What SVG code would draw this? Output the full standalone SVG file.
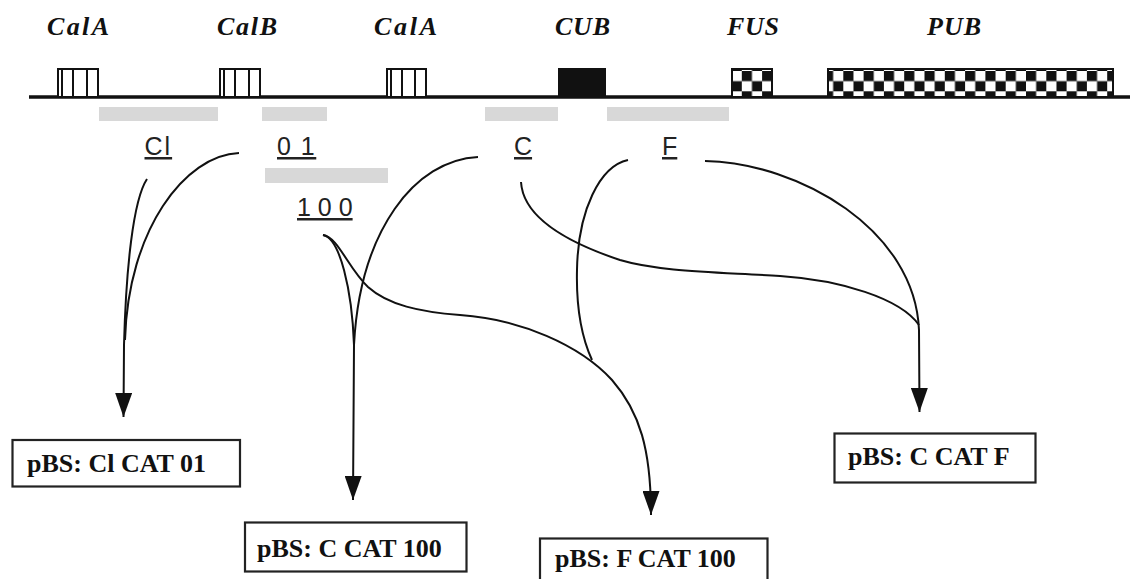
<svg xmlns="http://www.w3.org/2000/svg" width="1130" height="579" viewBox="0 0 1130 579">
<style>
.gl{font-family:"Liberation Serif","Times New Roman",serif;font-weight:bold;font-style:italic;font-size:26px;fill:#111}
.ex{fill:#fff;stroke:#111;stroke-width:2}
.bar{fill:#d8d8d8}
.lb{font-family:"Liberation Sans",Arial,sans-serif;font-size:25px;fill:#222;text-decoration:underline}
.cn{fill:none;stroke:#111;stroke-width:2}
.bx{fill:#fff;stroke:#222;stroke-width:2.2}
.bt{font-family:"Liberation Serif","Times New Roman",serif;font-weight:bold;font-size:26px;fill:#111}
</style>
<defs>
<marker id="ah" markerUnits="userSpaceOnUse" viewBox="0 0 24 17" markerWidth="24" markerHeight="17" refX="24" refY="8.5" orient="auto">
<path d="M0,0 L24,8.5 L0,17 z" fill="#111"/>
</marker>
<pattern id="chk" patternUnits="userSpaceOnUse" x="823" y="71" width="20.3" height="20.3">
<rect width="20.3" height="20.3" fill="#111"/>
<rect x="10.15" y="0" width="10.15" height="10.15" fill="#fff"/>
<rect x="0" y="10.15" width="10.15" height="10.15" fill="#fff"/>
</pattern>
</defs>
<rect width="1130" height="579" fill="#fff"/>

<g id="genes">
<line x1="29" y1="97" x2="1130" y2="97" stroke="#111" stroke-width="3.5"/>
<g id="gene-calA1">
<text class="gl" x="47" y="35" textLength="62" lengthAdjust="spacing">CalA</text>
<rect class="ex" x="58" y="69" width="40" height="28"/>
<path d="M62,69V97M73,69V97M87,69V97" stroke="#111" stroke-width="2"/>
</g>
<g id="gene-calB">
<text class="gl" x="217" y="35" textLength="60" lengthAdjust="spacing">CalB</text>
<rect class="ex" x="220" y="69" width="40" height="28"/>
<path d="M224,69V97M235,69V97M249,69V97" stroke="#111" stroke-width="2"/>
</g>
<g id="gene-calA2">
<text class="gl" x="374" y="35" textLength="63" lengthAdjust="spacing">CalA</text>
<rect class="ex" x="387" y="69" width="39" height="28"/>
<path d="M391,69V97M402,69V97M415,69V97" stroke="#111" stroke-width="2"/>
</g>
<g id="gene-CUB">
<text class="gl" x="555" y="35" textLength="55" lengthAdjust="spacing">CUB</text>
<rect x="559" y="69" width="46" height="28" fill="#111" stroke="#111" stroke-width="2"/>
</g>
<g id="gene-FUS">
<text class="gl" x="727" y="35" textLength="52" lengthAdjust="spacing">FUS</text>
<rect x="732" y="69" width="40" height="28" fill="url(#chk)" stroke="#111" stroke-width="2"/>
</g>
<g id="gene-PUB">
<text class="gl" x="927" y="35" textLength="54" lengthAdjust="spacing">PUB</text>
<rect x="828" y="69" width="285" height="28" fill="url(#chk)" stroke="#111" stroke-width="2"/>
</g>
</g>

<g id="fragments">
<rect class="bar" x="99" y="107" width="119" height="14"/>
<rect class="bar" x="262" y="107" width="65" height="14"/>
<rect class="bar" x="485" y="107" width="73" height="14"/>
<rect class="bar" x="607" y="107" width="122" height="14"/>
<rect class="bar" x="265" y="168" width="123" height="15"/>
</g>

<g id="labels">
<text id="lbl-Cl" class="lb" x="144.5" y="155" letter-spacing="2">Cl</text>
<text id="lbl-01" class="lb" x="277" y="155" xml:space="preserve" letter-spacing="1.5">0 1</text>
<text id="lbl-C" class="lb" x="514" y="155">C</text>
<text id="lbl-F" class="lb" x="662" y="155">F</text>
<text id="lbl-100" class="lb" x="297" y="216" xml:space="preserve">1 0 0</text>
</g>

<g id="connectors">
<path class="cn" d="M147,179 C133,200 126,270 124,345 L123.5,417" marker-end="url(#ah)"/>
<path class="cn" d="M239,153 C185,155 128,230 125,340"/>
<path class="cn" d="M478,157 C415,160 360,230 354,345 L353,500" marker-end="url(#ah)"/>
<path class="cn" d="M323,235 C340,238 352,290 354,345"/>
<path class="cn" d="M323,235 C338,237 348,268 368,287 C388,305 420,312 460,315 C520,319 580,345 612,380 C640,412 651,450 651,515" marker-end="url(#ah)"/>
<path class="cn" d="M628,160 C600,166 578,210 577,270 C576,310 582,338 592,360"/>
<path class="cn" d="M521,182 C523,215 560,240 620,260 C660,272 720,272 780,276 C840,280 900,298 919,325"/>
<path class="cn" d="M705,161 C800,163 915,230 919,330 L919.5,412" marker-end="url(#ah)"/>
</g>

<g id="box-ClCAT01">
<rect class="bx" x="12.5" y="440" width="227.5" height="46.5"/>
<text class="bt" x="27" y="472">pBS: Cl CAT 01</text>
</g>
<g id="box-CCAT100">
<rect class="bx" x="245" y="522.5" width="221.5" height="49"/>
<text class="bt" x="257" y="557">pBS: C CAT 100</text>
</g>
<g id="box-FCAT100">
<rect class="bx" x="540" y="538.5" width="227.5" height="50"/>
<text class="bt" x="555" y="567">pBS: F CAT 100</text>
</g>
<g id="box-CCATF">
<rect class="bx" x="834.5" y="433.5" width="201" height="49"/>
<text class="bt" x="848" y="465">pBS: C CAT F</text>
</g>
</svg>
